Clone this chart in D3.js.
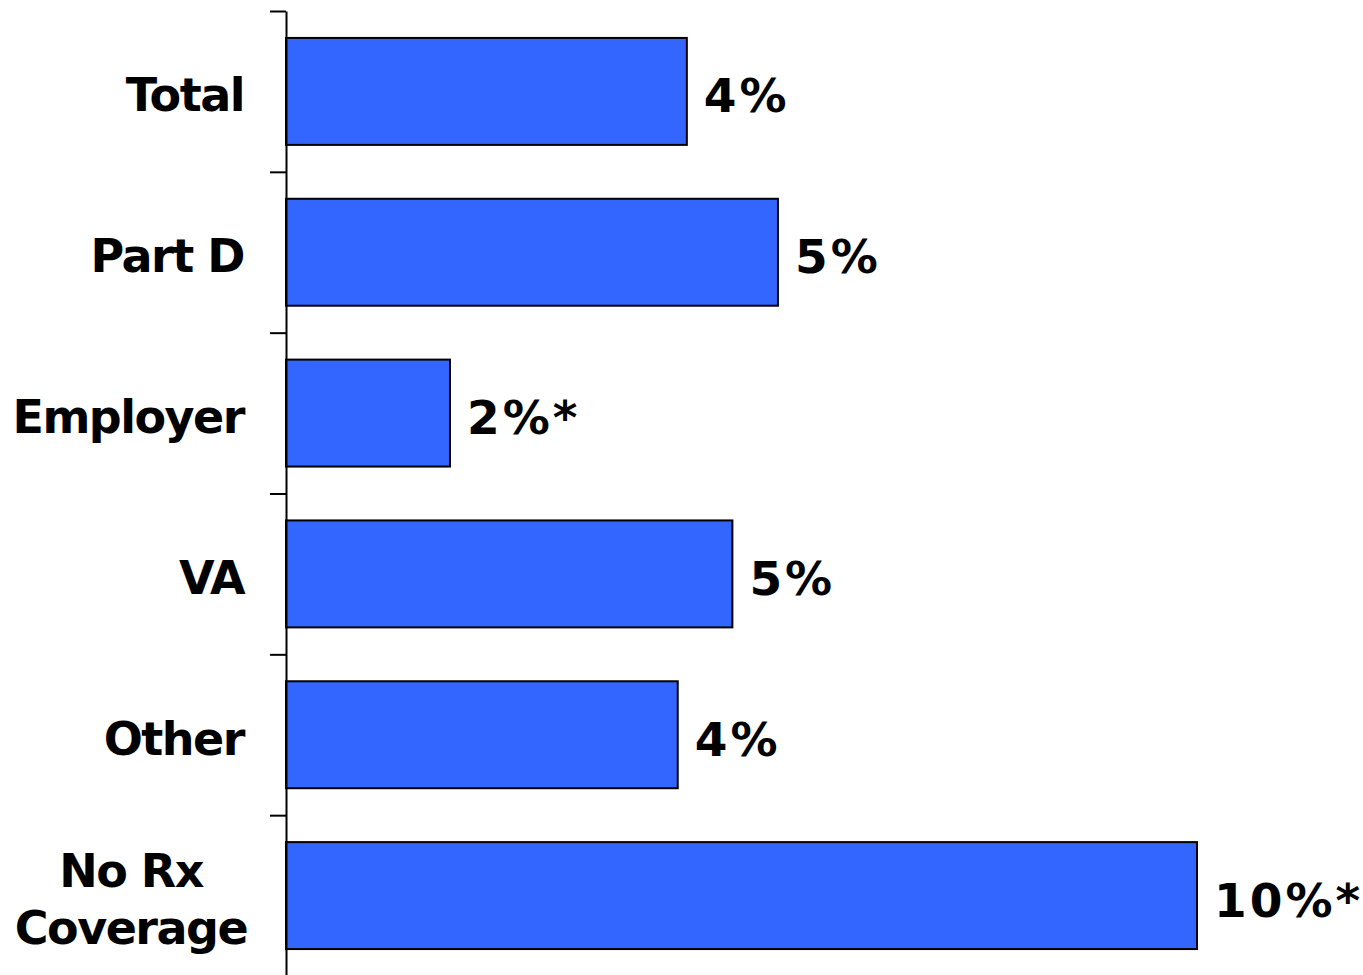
<!DOCTYPE html>
<html lang="en">
  <head>
    <meta charset="UTF-8" />
    <title>Coverage bar chart</title>
    <script src="https://d3js.org/d3.v7.min.js"></script>
    <style>
      html, body {
        margin: 0;
        padding: 0;
        background: #fff;
      }
      svg text {
        font-family: "DejaVu Sans", Verdana, sans-serif;
        font-weight: bold;
        font-size: 46px;
        letter-spacing: -1.5px;
        fill: #000;
      }
      svg text.val {
        font-size: 47px;
        letter-spacing: 3px;
      }
      .bar {
        fill: #3366ff;
        stroke: #000;
        stroke-width: 2;
      }
    </style>
  </head>
  <body>
    <svg id="chart" width="1363" height="975"></svg>

    <script>
      const width = 1363;
      const height = 975;

      const categories = ["Total", "Part D", "Employer", "VA", "Other", "No Rx\nCoverage"];
      const values = [4.4, 5.4, 1.8, 4.9, 4.3, 10.0];
      const valueLabels = ["4%", "5%", "2%*", "5%", "4%", "10%*"];

      const data = categories.map((c, i) => ({ name: c, value: values[i], label: valueLabels[i] }));

      const axisX = 286;
      const svg = d3.select("#chart").attr("width", width).attr("height", height);

      const x = d3.scaleLinear().domain([0, 10]).range([axisX, 1197]);

      const y = d3
        .scaleBand()
        .domain(categories)
        .range([11, 976])
        .paddingInner(0.335)
        .paddingOuter(0.1675);

      // bars
      svg
        .selectAll(".bar")
        .data(data)
        .enter()
        .append("rect")
        .attr("class", "bar")
        .attr("x", x(0))
        .attr("y", (d) => y(d.name))
        .attr("width", (d) => x(d.value) - x(0))
        .attr("height", y.bandwidth());

      // axis with ticks between the bands
      const tickScale = d3.scaleLinear().domain([0, categories.length]).range([11, 976]);
      const axis = svg
        .append("g")
        .attr("transform", `translate(${axisX}, 0)`)
        .call(
          d3
            .axisLeft(tickScale)
            .tickValues(d3.range(categories.length + 1))
            .tickSize(16)
            .tickSizeOuter(0)
            .tickFormat("")
        );
      axis.selectAll("path, line").attr("stroke", "#000").attr("stroke-width", 2);

      // category labels
      const labels = svg
        .selectAll(".cat")
        .data(data)
        .enter()
        .append("text")
        .attr("class", "cat")
        .attr("text-anchor", (d) => (d.name.includes("\n") ? "middle" : "end"))
        .attr("transform", (d) => {
          const cy = y(d.name) + y.bandwidth() / 2;
          return d.name.includes("\n") ? `translate(131, ${cy})` : `translate(244, ${cy})`;
        });

      labels.each(function (d) {
        const lines = d.name.split("\n");
        const lh = 57;
        const start = -((lines.length - 1) * lh) / 2;
        d3.select(this)
          .selectAll("tspan")
          .data(lines)
          .enter()
          .append("tspan")
          .attr("x", 0)
          .attr("y", (l, i) => start + i * lh + 20)
          .text((l) => l);
      });

      // value labels
      svg
        .selectAll(".val")
        .data(data)
        .enter()
        .append("text")
        .attr("class", "val")
        .attr("x", (d) => x(d.value) + 17)
        .attr("y", (d) => y(d.name) + y.bandwidth() / 2 + 21)
        .text((d) => d.label);
    </script>
  </body>
</html>
